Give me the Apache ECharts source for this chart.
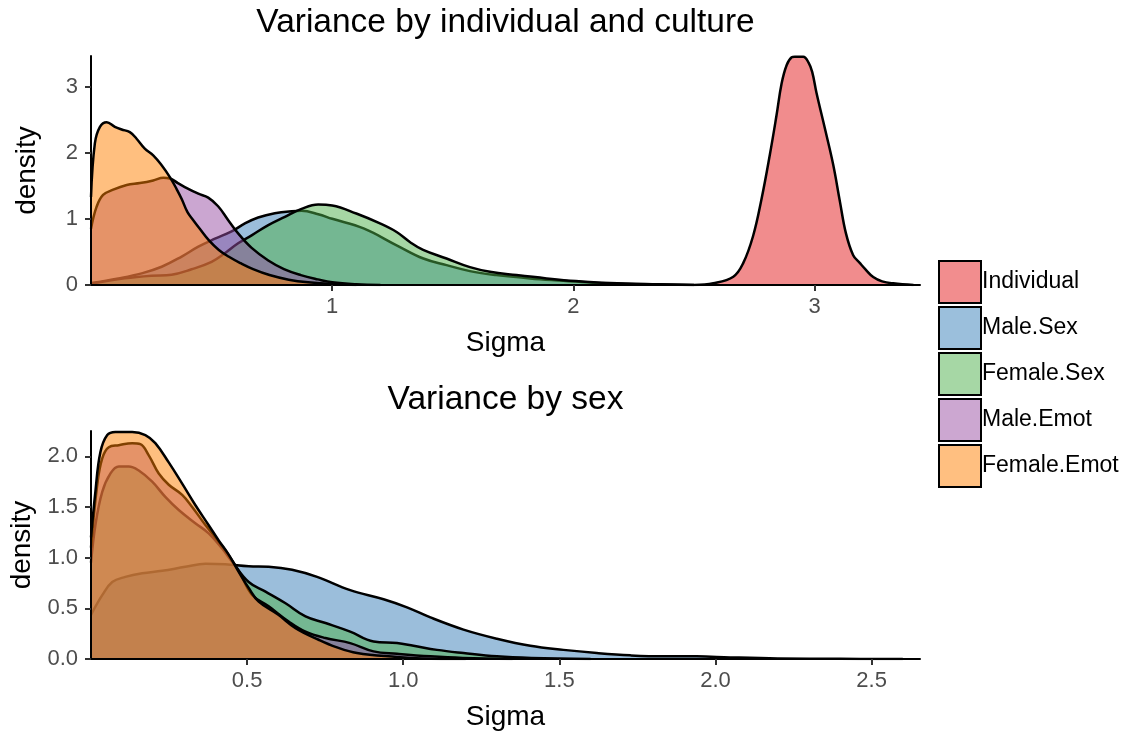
<!DOCTYPE html>
<html>
<head>
<meta charset="utf-8">
<script src="https://cdn.jsdelivr.net/npm/echarts@6/dist/echarts.min.js"></script>
<style>
  html, body { margin: 0; padding: 0; background: #fff; }
  #chart { width: 1129px; height: 734px; }
</style>
</head>
<body>
<div id="chart"></div>
<script>
// Group names and their Set1 colours
const groups = ['Individual', 'Male.Sex', 'Female.Sex', 'Male.Emot', 'Female.Emot'];
const groupColors = ['#E41A1C', '#377EB8', '#4DAF4A', '#984EA3', '#FF7F00'];

// Panel titles and axis tick values
const titles = ['Variance by individual and culture', 'Variance by sex'];
const topXTicks = [1, 2, 3];
const topYTicks = [0, 1, 2, 3];
const bottomXTicks = [0.5, 1.0, 1.5, 2.0, 2.5];
const bottomYTicks = [0.0, 0.5, 1.0, 1.5, 2.0];

// Density estimates, [sigma, density] — upper panel
const topIndividual = [[2.50,0],[2.58,0.025],[2.663,0.125],[2.704,0.33],[2.745,0.74],[2.78,1.3],[2.815,1.98],[2.842,2.56],[2.863,3.04],[2.884,3.32],[2.905,3.44],[2.918,3.45],[2.953,3.45],[2.975,3.36],[2.99,3.22],[3.008,2.9],[3.043,2.36],[3.077,1.82],[3.105,1.26],[3.13,0.78],[3.16,0.45],[3.188,0.33],[3.21,0.24],[3.243,0.12],[3.28,0.055],[3.326,0.025],[3.41,0]];
const topMaleSex = [[0,0.03],[0.113,0.10],[0.21,0.176],[0.293,0.276],[0.376,0.43],[0.445,0.58],[0.514,0.70],[0.583,0.81],[0.638,0.93],[0.693,1.02],[0.762,1.085],[0.832,1.115],[0.873,1.12],[0.942,1.07],[1.0,1.0],[1.13,0.855],[1.267,0.6],[1.378,0.40],[1.474,0.30],[1.571,0.21],[1.68,0.15],[1.82,0.10],[1.958,0.065],[2.1,0.03],[2.3,0.01],[2.5,0]];
const topFemaleSex = [[0,0.02],[0.14,0.10],[0.25,0.14],[0.334,0.155],[0.417,0.237],[0.50,0.35],[0.555,0.48],[0.61,0.63],[0.666,0.75],[0.735,0.905],[0.804,1.03],[0.873,1.15],[0.942,1.215],[1.0,1.2],[1.10,1.08],[1.198,0.93],[1.267,0.80],[1.322,0.65],[1.377,0.53],[1.474,0.40],[1.571,0.27],[1.654,0.20],[1.764,0.15],[1.889,0.10],[2.01,0.06],[2.15,0.03],[2.35,0.01],[2.5,0]];
const topMaleEmot = [[0,0.85],[0.023,1.18],[0.05,1.36],[0.092,1.44],[0.148,1.51],[0.203,1.54],[0.258,1.58],[0.30,1.62],[0.327,1.61],[0.36,1.54],[0.389,1.48],[0.445,1.38],[0.486,1.32],[0.527,1.19],[0.569,0.98],[0.61,0.78],[0.666,0.56],[0.735,0.37],[0.80,0.24],[0.87,0.15],[0.94,0.085],[1.0,0.04],[1.1,0.01],[1.2,0]];
const topFemaleEmot = [[0,1.33],[0.016,2.14],[0.037,2.39],[0.065,2.46],[0.099,2.39],[0.127,2.35],[0.161,2.31],[0.189,2.21],[0.223,2.06],[0.258,1.96],[0.293,1.81],[0.327,1.63],[0.355,1.45],[0.376,1.30],[0.40,1.10],[0.424,0.98],[0.451,0.85],[0.49,0.67],[0.53,0.53],[0.57,0.43],[0.62,0.33],[0.672,0.24],[0.74,0.15],[0.82,0.08],[0.9,0.04],[1.0,0.015],[1.1,0]];

// Density estimates, [sigma, density] — lower panel
const bottomMaleSex = [[0,0.436],[0.036,0.63],[0.068,0.76],[0.11,0.81],[0.164,0.846],[0.228,0.87],[0.302,0.91],[0.367,0.94],[0.43,0.935],[0.505,0.915],[0.569,0.91],[0.644,0.88],[0.724,0.81],[0.83,0.68],[0.937,0.59],[1.012,0.51],[1.087,0.41],[1.193,0.29],[1.30,0.20],[1.407,0.13],[1.513,0.09],[1.62,0.059],[1.727,0.036],[1.834,0.026],[1.94,0.026],[2.047,0.016],[2.2,0.006],[2.4,0.002],[2.6,0]];
const bottomFemaleSex = [[0,0.95],[0.014,1.32],[0.036,1.65],[0.062,1.83],[0.089,1.90],[0.121,1.90],[0.153,1.86],[0.196,1.75],[0.238,1.60],[0.281,1.47],[0.334,1.34],[0.377,1.24],[0.42,1.09],[0.452,0.96],[0.505,0.76],[0.559,0.665],[0.623,0.55],[0.687,0.42],[0.751,0.355],[0.83,0.27],[0.905,0.173],[0.98,0.157],[1.033,0.13],[1.108,0.09],[1.193,0.059],[1.30,0.026],[1.41,0.01],[1.6,0]];
const bottomMaleEmot = [[0,1.1],[0.02,1.72],[0.036,1.98],[0.057,2.09],[0.089,2.11],[0.132,2.13],[0.158,2.12],[0.185,2.01],[0.217,1.83],[0.249,1.72],[0.292,1.62],[0.324,1.50],[0.367,1.32],[0.409,1.16],[0.44,1.03],[0.475,0.86],[0.516,0.633],[0.569,0.52],[0.633,0.37],[0.687,0.27],[0.751,0.207],[0.83,0.157],[0.905,0.075],[0.98,0.052],[1.087,0.026],[1.19,0.01],[1.35,0]];
const bottomFemaleEmot = [[0,1.2],[0.014,1.65],[0.03,2.04],[0.052,2.21],[0.078,2.24],[0.132,2.24],[0.174,2.21],[0.206,2.13],[0.249,1.94],[0.292,1.73],[0.334,1.52],[0.377,1.32],[0.409,1.17],[0.441,1.03],[0.473,0.86],[0.505,0.70],[0.537,0.567],[0.60,0.436],[0.655,0.305],[0.729,0.19],[0.783,0.12],[0.852,0.059],[0.98,0.02],[1.06,0.005],[1.2,0]];

const topData = [topIndividual, topMaleSex, topFemaleSex, topMaleEmot, topFemaleEmot];
const bottomData = [null, bottomMaleSex, bottomFemaleSex, bottomMaleEmot, bottomFemaleEmot];

const FONT = '"Liberation Sans", Arial, Helvetica, sans-serif';
const FILL_ALPHA = 0.5;

// Colour of a half-transparent fill over white, used for the legend keys
function blendOnWhite(hex, a) {
  const n = parseInt(hex.slice(1), 16);
  const ch = [(n >> 16) & 255, (n >> 8) & 255, n & 255].map(c => Math.round(c * a + 255 * (1 - a)));
  return 'rgb(' + ch.join(',') + ')';
}

// Each group gets its own z so that later fills paint over earlier outlines
function densitySeries(i, data, panel) {
  return {
    type: 'line',
    name: groups[i],
    xAxisIndex: panel,
    yAxisIndex: panel,
    z: 2 + i,
    data: data,
    smooth: 0.4,
    showSymbol: false,
    symbol: 'none',
    silent: true,
    itemStyle: { color: groupColors[i] },
    lineStyle: { color: '#000', width: 2.5, join: 'round' },
    areaStyle: { color: groupColors[i], opacity: FILL_ALPHA }
  };
}

const series = [];
topData.forEach((d, i) => { if (d) series.push(densitySeries(i, d, 0)); });
bottomData.forEach((d, i) => { if (d) series.push(densitySeries(i, d, 1)); });

function xAxis(panel, max, ticks, fmt) {
  return {
    type: 'value', gridIndex: panel, min: 0, max: max, z: 20,
    name: 'Sigma', nameLocation: 'middle', nameGap: 44,
    nameTextStyle: { fontSize: 28, color: '#000', fontFamily: FONT },
    axisLine: { show: true, onZero: false, lineStyle: { color: '#000', width: 2 } },
    axisTick: { show: true, length: 6, customValues: ticks, lineStyle: { color: '#333', width: 2 } },
    axisLabel: { customValues: ticks, formatter: fmt, fontSize: 22, color: '#4D4D4D', margin: 11, fontFamily: FONT },
    splitLine: { show: false }
  };
}
function yAxis(panel, max, ticks, fmt) {
  return {
    type: 'value', gridIndex: panel, min: 0, max: max, z: 20,
    name: 'density', nameLocation: 'middle', nameGap: 50,
    nameTextStyle: { fontSize: 28, color: '#000', fontFamily: FONT },
    axisLine: { show: true, onZero: false, lineStyle: { color: '#000', width: 2 } },
    axisTick: { show: true, length: 6, customValues: ticks, lineStyle: { color: '#333', width: 2 } },
    axisLabel: { customValues: ticks, formatter: fmt, fontSize: 22, color: '#4D4D4D', margin: 13, fontFamily: FONT },
    splitLine: { show: false }
  };
}
const plain = v => String(v);
const oneDecimal = v => Number(v).toFixed(1);

const chart = echarts.init(document.getElementById('chart'), null, { renderer: 'canvas' });
chart.setOption({
  animation: false,
  backgroundColor: '#fff',
  textStyle: { fontFamily: FONT },
  grid: [
    { left: 91, top: 56, width: 829, height: 229 },
    { left: 91, top: 431, width: 829, height: 228 }
  ],
  xAxis: [xAxis(0, 3.437, topXTicks, plain), xAxis(1, 2.655, bottomXTicks, oneDecimal)],
  yAxis: [yAxis(0, 3.46, topYTicks, plain), yAxis(1, 2.25, bottomYTicks, oneDecimal)],
  legend: {
    orient: 'vertical', left: 938, top: 260, padding: 0,
    itemWidth: 42, itemHeight: 42, itemGap: 2,
    selectedMode: false,
    textStyle: { fontSize: 23, color: '#000', fontFamily: FONT, padding: [0, 0, 0, -4] },
    data: groups.map((g, i) => ({
      name: g, icon: 'rect',
      itemStyle: { color: blendOnWhite(groupColors[i], FILL_ALPHA), borderColor: '#000', borderWidth: 2, opacity: 1 }
    }))
  },
  graphic: [
    { type: 'text', x: 505.5, y: 23, style: { text: titles[0], align: 'center', verticalAlign: 'middle', textAlign: 'center', textVerticalAlign: 'middle', fontSize: 33.5, fontFamily: FONT, fill: '#000' } },
    { type: 'text', x: 505.5, y: 400, style: { text: titles[1], align: 'center', verticalAlign: 'middle', textAlign: 'center', textVerticalAlign: 'middle', fontSize: 33.5, fontFamily: FONT, fill: '#000' } }
  ],
  series: series
});
</script>
</body>
</html>
